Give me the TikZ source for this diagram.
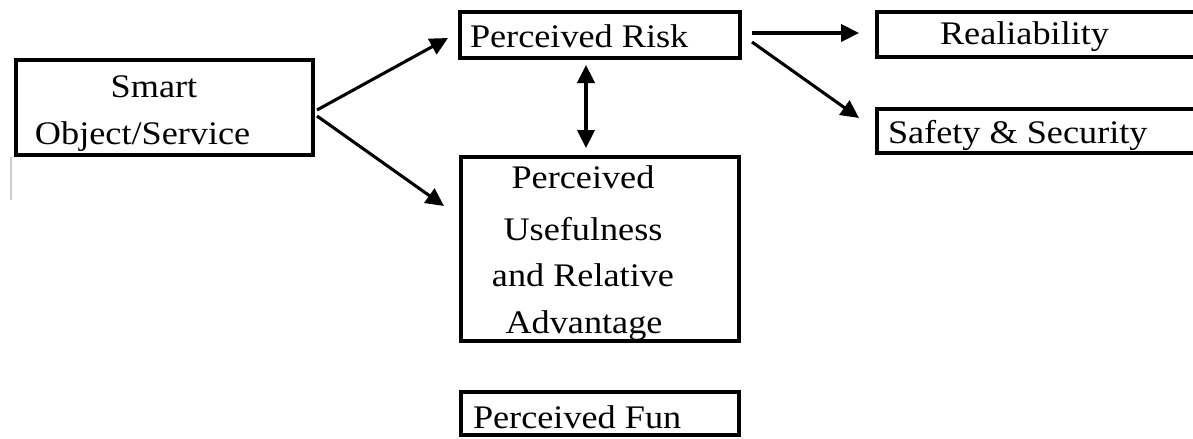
\documentclass[tikz,border=0pt]{standalone}
\usepackage{fontspec}
\setmainfont[FakeStretch=1.1]{Liberation Serif}
\usetikzlibrary{arrows.meta}
\begin{document}
\begin{tikzpicture}[x=0.75pt,y=-0.75pt,
  box/.style={draw=black,line width=3.6pt,inner sep=0pt,outer sep=0pt,fill=white},
  lbl/.style={inner sep=0pt,outer sep=0pt,font=\fontsize{24.7}{36}\selectfont},
  conn/.style={line width=2.3pt,-{Triangle[length=13.5pt,width=13pt]}},
  dconn/.style={line width=2.3pt,{Triangle[length=13.5pt,width=13pt]}-{Triangle[length=13.5pt,width=13pt]}}]
\useasboundingbox (0,0) rectangle (1193,439);
\clip (0,0) rectangle (1193,439);
% boxes
\node[box,minimum width=297*0.75pt,minimum height=95*0.75pt] (smart) at (164.5,107.5) {};
\node[box,minimum width=280*0.75pt,minimum height=46*0.75pt] (risk) at (600,35) {};
\node[box,minimum width=278*0.75pt,minimum height=184*0.75pt] (pu) at (600,249) {};
\node[box,minimum width=278*0.75pt,minimum height=43*0.75pt] (fun) at (600,413.5) {};
\node[box,minimum width=328*0.75pt,minimum height=45*0.75pt] (real) at (1041,34.5) {};
\node[box,minimum width=328*0.75pt,minimum height=44*0.75pt] (safety) at (1041,131) {};
% faint stray line
\draw[line width=0.8pt,black!20] (11,157) -- (11,200);
% labels
\node[lbl,anchor=base] (tsmart1) at (154,97) {Smart};
\node[lbl,anchor=base west] (tsmart2) at (35,144) {Object/Service};
\node[lbl,anchor=base west] (trisk) at (470,47) {Perceived Risk};
\node[lbl,anchor=base] (tpu1) at (583,188) {Perceived};
\node[lbl,anchor=base] (tpu2) at (583,240) {Usefulness};
\node[lbl,anchor=base] (tpu3) at (583,286) {and Relative};
\node[lbl,anchor=base] (tpu4) at (584,333) {Advantage};
\node[lbl,anchor=base west] (tfun) at (473,428) {Perceived Fun};
\node[lbl,anchor=base west] (treal) at (940,44) {Realiability};
\node[lbl,anchor=base west] (tsafety) at (888,143) {Safety \& Security};
% connectors
\draw[conn] ([shift={(4,2.5)}]smart.east) -- ([shift={(-12,3)}]risk.west);
\draw[conn] ([shift={(4,8.5)}]smart.east) -- ([shift={(-17,49)}]pu.north west);
\draw[dconn] ([shift={(-14,7)}]risk.south) -- ([shift={(-14,-9)}]pu.north);
\draw[conn] ([shift={(12,-2)}]risk.east) -- ([shift={(-18,-1.5)}]real.west);
\draw[conn] ([shift={(12,7)}]risk.east) -- ([shift={(-18,-13)}]safety.west);
\end{tikzpicture}
\end{document}
